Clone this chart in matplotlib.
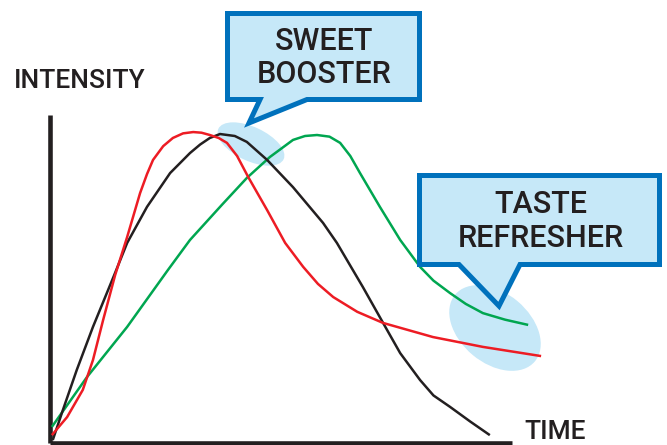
import matplotlib
matplotlib.use("Agg")
import matplotlib.pyplot as plt
from matplotlib.patches import Polygon, Ellipse

# ---- Data (time 0..10, intensity 0..10) ----
red_t = [0.04, 0.37, 0.71, 0.93, 1.15, 1.41, 1.67, 1.95, 2.10, 2.23, 2.45, 2.66, 2.88, 3.10, 3.28, 3.46,
         3.65, 3.83, 4.05, 4.29, 4.70, 5.09, 5.48, 5.80, 6.13, 6.65, 7.21, 8.29, 9.37, 10.63]
red_i = [0.24, 0.79, 1.62, 2.53, 3.75, 5.12, 6.28, 7.62, 8.20, 8.63, 9.05, 9.30, 9.44, 9.48, 9.46, 9.39,
         9.30, 9.15, 8.75, 8.11, 7.10, 6.10, 5.37, 4.85, 4.45, 4.00, 3.66, 3.23, 2.93, 2.65]

black_t = [0.06, 0.28, 0.58, 0.93, 1.39, 1.67, 2.10, 2.60, 3.03, 3.25, 3.46, 3.68, 4.00, 4.26, 4.70,
           5.26, 5.91, 6.21, 6.77, 7.21, 7.58, 8.01, 8.30, 8.66, 9.10, 9.52]
black_i = [0.09, 1.01, 2.23, 3.54, 5.12, 6.10, 7.20, 8.23, 8.84, 9.10, 9.30, 9.42, 9.36, 9.18, 8.63,
           7.80, 6.71, 6.10, 4.76, 3.66, 2.74, 1.92, 1.45, 1.10, 0.65, 0.24]

green_t = [0.04, 0.80, 1.67, 2.55, 3.03, 3.72, 4.26, 4.76, 5.26, 5.52, 5.78, 6.05, 6.28, 6.50, 6.71,
           7.14, 7.58, 8.01, 8.30, 8.66, 9.00, 9.37, 9.85, 10.35]
green_i = [0.49, 2.01, 3.54, 5.27, 6.19, 7.26, 8.08, 8.72, 9.24, 9.36, 9.39, 9.34, 9.15, 8.75, 8.23,
           7.20, 6.19, 5.37, 4.95, 4.57, 4.24, 3.96, 3.76, 3.60]

x_label = "TIME"
y_label = "INTENSITY"
callout_1 = ["SWEET", "BOOSTER"]
callout_2 = ["TASTE", "REFRESHER"]

INK = "#231F20"
BLUE = "#0071BC"
FILL = "#C6E8F8"
FONT = ["Roboto", "DejaVu Sans"]

fig = plt.figure(figsize=(6.67, 4.45), dpi=100)

# main plot area (left spine x=50px, bottom y=443px, top y=115px, right x=512px)
ax = fig.add_axes([50 / 667, 2 / 445, 462 / 667, 328 / 445])
ax.set_xlim(0, 10)
ax.set_ylim(0, 10)
ax.patch.set_alpha(0)
for s in ["top", "right"]:
    ax.spines[s].set_visible(False)
for s in ["left", "bottom"]:
    ax.spines[s].set_linewidth(3.3)
    ax.spines[s].set_color(INK)
    ax.spines[s].set_capstyle("butt")
ax.set_xticks([])
ax.set_yticks([])

# overlay in pixel coordinates for the annotations
ov = fig.add_axes([0, 0, 1, 1], zorder=5)
ov.set_xlim(0, 667)
ov.set_ylim(445, 0)
ov.axis("off")
ov.patch.set_alpha(0)

# highlight ellipses (under the curves)
for (cx, cy, w, h, a) in [(251, 144, 72, 34, 25), (495, 328, 104, 70, 40)]:
    ax.add_patch(Ellipse((cx, cy), w, h, angle=a, transform=ov.transData,
                         facecolor=FILL, edgecolor="none", zorder=1, clip_on=False))

lw = 1.8
ax.plot(green_t, green_i, color="#00A650", lw=lw, zorder=3, clip_on=False, solid_capstyle="butt")
ax.plot(black_t, black_i, color=INK, lw=lw, zorder=3, clip_on=False, solid_capstyle="butt")
ax.plot(red_t, red_i, color="#ED1C24", lw=lw, zorder=3, clip_on=False, solid_capstyle="butt")

# callout boxes
box1 = [(227.5, 13.5), (419.5, 13.5), (419.5, 99.5), (307, 99.5), (249, 123), (260, 99.5), (227.5, 99.5)]
box2 = [(419.5, 175.5), (659.5, 175.5), (659.5, 264.5), (520, 264.5), (499, 306), (459, 264.5), (419.5, 264.5)]
for pts in [box1, box2]:
    ov.add_patch(Polygon(pts, closed=True, facecolor=FILL, edgecolor=BLUE, lw=3.6,
                         joinstyle="miter", zorder=6))

tkw = dict(family=FONT, fontweight="medium", color=INK, ha="center", va="baseline", zorder=7, fontsize=22)
ov.text(324, 50, callout_1[0], **tkw)
ov.text(324, 83, callout_1[1], **tkw)
ov.text(541, 213, callout_2[0], **tkw)
ov.text(541, 247, callout_2[1], **tkw)

ov.text(14, 88, y_label, fontsize=19, family=FONT, fontweight="medium", color=INK, ha="left", va="baseline")
ov.text(524, 439, x_label, fontsize=19, family=FONT, fontweight="medium", color=INK, ha="left", va="baseline")

fig.savefig("out.png", dpi=100)
